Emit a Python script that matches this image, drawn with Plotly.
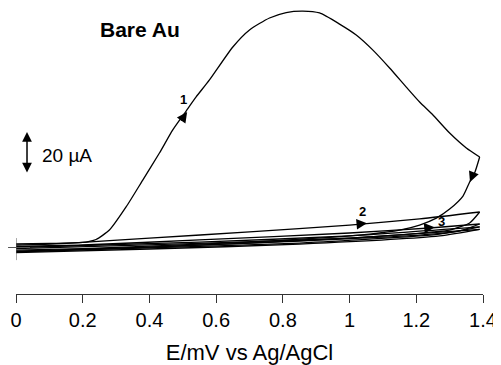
import plotly.graph_objects as go

# ---- data (E in V vs Ag/AgCl, I in µA) ----
c1_fwd_E = [0.00, 0.10, 0.20, 0.22, 0.24, 0.28, 0.33, 0.38, 0.43, 0.47, 0.51, 0.54, 0.58, 0.65, 0.70,
            0.76, 0.81, 0.86, 0.91, 0.97, 1.02, 1.07, 1.12, 1.17, 1.21, 1.25, 1.30, 1.35, 1.39]
c1_fwd_I = [1.7, 1.9, 2.4, 2.9, 3.8, 8.3, 19.3, 32.1, 45.0, 56.0, 65.0, 71.7, 79.8, 95.5, 103.6,
            109.3, 111.9, 112.6, 111.7, 106.4, 101.2, 94.0, 85.5, 76.4, 69.3, 63.1, 54.5, 47.4, 43.1]
c1_rev_E = [1.39, 1.376, 1.36, 1.34, 1.30, 1.26, 1.21, 1.15, 1.06, 0.94, 0.70, 0.40, 0.20, 0.00]
c1_rev_I = [43.1, 36.0, 31.2, 24.5, 18.3, 14.0, 10.7, 8.3, 6.4, 4.8, 2.6, 0.7, -0.5, -1.2]

c2_fwd_E = [0.00, 0.10, 0.20, 0.40, 0.70, 1.00, 1.21, 1.39]
c2_fwd_I = [1.2, 1.6, 2.4, 4.5, 7.4, 10.7, 13.6, 16.9]
c2_rev_E = [1.39, 1.36, 1.30, 1.25, 1.15, 1.00, 0.70, 0.40, 0.00]
c2_rev_I = [16.9, 11.7, 8.3, 7.4, 6.0, 4.5, 2.1, 0.2, -1.7]

c3_fwd_E = [0.00, 0.20, 0.55, 1.00, 1.24, 1.39]
c3_fwd_I = [0.5, 1.2, 3.6, 6.9, 9.3, 11.2]
c3_rev_E = [1.39, 1.33, 1.21, 0.85, 0.40, 0.00]
c3_rev_I = [11.2, 7.9, 5.9, 3.1, 0.2, -2.1]

c4_fwd_E = [0.00, 0.55, 1.00, 1.39]
c4_fwd_I = [0.0, 2.6, 5.5, 9.8]
c4_rev_E = [1.39, 1.27, 0.85, 0.40, 0.00]
c4_rev_I = [9.8, 6.4, 2.1, -0.2, -2.1]

c5_fwd_E = [0.00, 0.55, 1.00, 1.39]
c5_fwd_I = [-0.5, 2.0, 4.5, 8.6]
c5_rev_E = [1.39, 1.27, 0.85, 0.40, 0.00]
c5_rev_I = [8.6, 5.5, 1.6, -0.7, -2.4]

tick_vals = [0, 0.2, 0.4, 0.6, 0.8, 1.0, 1.2, 1.4]
tick_text = ["0", "0.2", "0.4", "0.6", "0.8", "1", "1.2", "1.4"]

FONT = "Liberation Sans, Arial, sans-serif"

segments = [
    (c1_fwd_E, c1_fwd_I), (c1_rev_E, c1_rev_I),
    (c2_fwd_E, c2_fwd_I), (c2_rev_E, c2_rev_I),
    (c3_fwd_E, c3_fwd_I), (c3_rev_E, c3_rev_I),
    (c4_fwd_E, c4_fwd_I), (c4_rev_E, c4_rev_I),
    (c5_fwd_E, c5_fwd_I), (c5_rev_E, c5_rev_I),
]

fig = go.Figure()
for E, I in segments:
    fig.add_trace(go.Scatter(x=E, y=I, mode="lines",
                             line=dict(color="black", width=1.3, shape="spline", smoothing=0.6),
                             showlegend=False, hoverinfo="skip", cliponaxis=False))

ann = []
# direction arrows on the curves
arrow_style = dict(showarrow=True, arrowhead=2, arrowsize=1.6, arrowwidth=1.3,
                   arrowcolor="black", text="")
ann.append(dict(x=0.513, y=64.5, ax=-7, ay=10, **arrow_style))
ann.append(dict(x=1.361, y=31.2, ax=4, ay=-10, **arrow_style))
ann.append(dict(x=1.052, y=11.5, ax=-11, ay=1, **arrow_style))
ann.append(dict(x=1.255, y=9.6, ax=-11, ay=1, **arrow_style))
# cycle numbers
lab_font = dict(family=FONT, size=13, color="black")
ann.append(dict(x=0.501, y=70.5, text="<b>1</b>", showarrow=False, font=lab_font))
ann.append(dict(x=1.040, y=17.0, text="<b>2</b>", showarrow=False, font=lab_font))
ann.append(dict(x=1.276, y=12.3, text="<b>3</b>", showarrow=False, font=lab_font))
# scale bar (20 µA)
ann.append(dict(x=0.033, y=55, ax=0.033, ay=35, axref="x", ayref="y", showarrow=True,
                arrowhead=2, startarrowhead=2, arrowside="end+start", arrowsize=1.3,
                startarrowsize=1.3, arrowwidth=1.5, arrowcolor="black", text=""))
ann.append(dict(x=0.072, y=44.0, text="20 µA", showarrow=False, xanchor="left",
                font=dict(family=FONT, size=19, color="black")))
ann.append(dict(x=0.373, y=103.6, text="<b>Bare Au</b>", showarrow=False,
                font=dict(family=FONT, size=21, color="black")))

fig.update_layout(
    width=493, height=357,
    margin=dict(l=8, r=18, t=0, b=71),
    paper_bgcolor="white", plot_bgcolor="white",
    annotations=ann,
    shapes=[
        dict(type="line", xref="paper", yref="y", x0=-0.017, x1=0.03, y0=0, y1=0,
             line=dict(color="#555", width=1)),
        dict(type="line", xref="x", yref="y", x0=0, x1=0, y0=4.5, y1=-6,
             line=dict(color="#555", width=1)),
    ],
    xaxis=dict(range=[0, 1.4], showgrid=False, zeroline=False, showline=True,
               linecolor="#333", linewidth=1, ticks="outside", ticklen=8, tickwidth=1,
               tickcolor="#333", tickvals=tick_vals, ticktext=tick_text,
               tickfont=dict(family=FONT, size=20, color="black"),
               title=dict(text="E/mV vs Ag/AgCl", font=dict(family=FONT, size=22, color="black"),
                          standoff=17)),
    yaxis=dict(range=[-22.14, 114.05], visible=False),
)

fig.write_html("out.html")
